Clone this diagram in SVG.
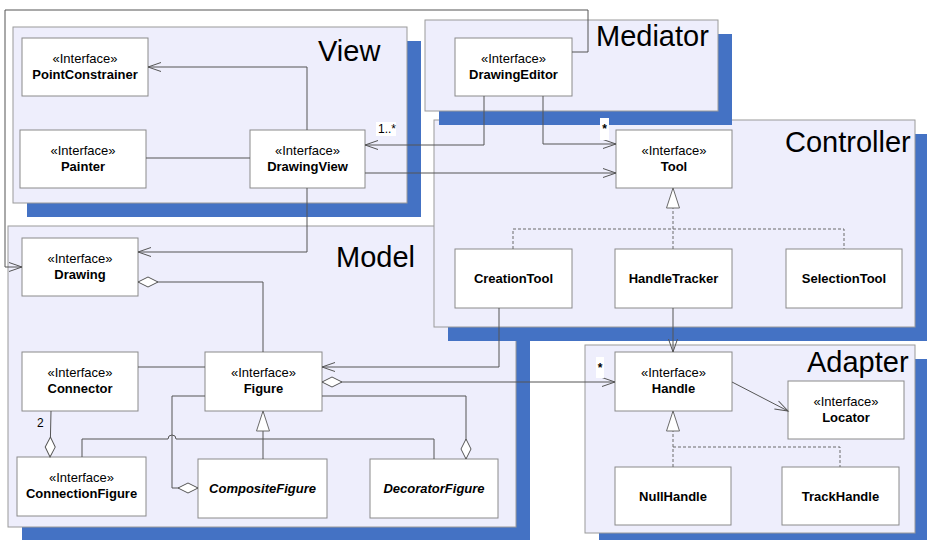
<svg xmlns="http://www.w3.org/2000/svg" width="927" height="540" viewBox="0 0 927 540">
<style>
.pkg{fill:#eeeefc;stroke:#9a9a9a;stroke-width:1}
.shd{fill:#4472c4}
.ptitle{font-family:"Liberation Sans",Arial,sans-serif;font-size:29px;fill:#000}
.node rect{fill:#fff;stroke:#8a8a8a;stroke-width:1}
.st{font-family:"Liberation Sans",Arial,sans-serif;font-size:13px;fill:#000;text-anchor:middle}
.nm{font-family:"Liberation Sans",Arial,sans-serif;font-size:13px;font-weight:bold;fill:#000;text-anchor:middle}
.it{font-style:italic}
.c{fill:none;stroke:#555;stroke-width:1}
.d{fill:none;stroke:#6a6a6a;stroke-width:1;stroke-dasharray:3,2}
.lbl{font-family:"Liberation Sans",Arial,sans-serif;font-size:12px;fill:#000}
.lbg{fill:#fff}
</style>
<defs>
<marker id="arr" markerUnits="userSpaceOnUse" markerWidth="20" markerHeight="20" viewBox="-16 -8 20 16" refX="0" refY="0" orient="auto" overflow="visible"><path d="M-13,-4.5 L0,0 L-13,4.5" fill="none" stroke="#555" stroke-width="1"/></marker>
<marker id="dia" markerUnits="userSpaceOnUse" markerWidth="24" markerHeight="14" viewBox="-22 -7 24 14" refX="0" refY="0" orient="auto-start-reverse" overflow="visible"><path d="M0,0 L-10,-5 L-20,0 L-10,5 Z" fill="#fff" stroke="#555" stroke-width="1"/></marker>
<marker id="tri" markerUnits="userSpaceOnUse" markerWidth="24" markerHeight="16" viewBox="-22 -8 24 16" refX="0" refY="0" orient="auto" overflow="visible"><path d="M0,0 L-20,-6.5 L-20,6.5 Z" fill="#fff" stroke="#6a6a6a" stroke-width="1"/></marker>
</defs>

<g id="pkg-view">
<rect class="shd" x="27" y="41" width="394" height="176"/>
<rect class="pkg" x="13" y="27" width="394" height="176"/>
<text class="ptitle" x="318" y="61">View</text>
</g>
<g id="pkg-model">
<rect class="shd" x="22" y="240" width="508" height="301"/>
<rect class="pkg" x="8" y="226" width="508" height="301"/>
<text class="ptitle" x="336" y="267">Model</text>
</g>
<g id="pkg-controller">
<rect class="shd" x="448" y="134" width="481" height="207"/>
<rect class="pkg" x="434" y="120" width="481" height="207"/>
<text class="ptitle" x="785" y="152">Controller</text>
</g>
<g id="pkg-mediator">
<rect class="shd" x="439" y="34" width="293" height="91"/>
<rect class="pkg" x="425" y="20" width="293" height="91"/>
<text class="ptitle" x="596" y="46">Mediator</text>
</g>
<g id="pkg-adapter">
<rect class="shd" x="599" y="359" width="330" height="188"/>
<rect class="pkg" x="585" y="345" width="330" height="188"/>
<text class="ptitle" x="807" y="372">Adapter</text>
</g>

<g id="PointConstrainer" class="node"><rect x="22" y="38" width="126" height="58"/><text class="st" x="85" y="63">«Interface»</text><text class="nm" x="85" y="79">PointConstrainer</text></g>
<g id="Painter" class="node"><rect x="20" y="130" width="126" height="58"/><text class="st" x="83" y="155">«Interface»</text><text class="nm" x="83" y="171">Painter</text></g>
<g id="DrawingView" class="node"><rect x="250" y="130" width="115" height="58"/><text class="st" x="307.5" y="155">«Interface»</text><text class="nm" x="307.5" y="171">DrawingView</text></g>
<g id="DrawingEditor" class="node"><rect x="455" y="38" width="117" height="58"/><text class="st" x="513.5" y="63">«Interface»</text><text class="nm" x="513.5" y="79">DrawingEditor</text></g>
<g id="Tool" class="node"><rect x="616" y="130" width="116" height="58"/><text class="st" x="674" y="155">«Interface»</text><text class="nm" x="674" y="171">Tool</text></g>
<g id="CreationTool" class="node"><rect x="455" y="249" width="117" height="59"/><text class="nm" x="513.5" y="283">CreationTool</text></g>
<g id="HandleTracker" class="node"><rect x="615" y="249" width="117" height="59"/><text class="nm" x="673.5" y="283">HandleTracker</text></g>
<g id="SelectionTool" class="node"><rect x="786" y="249" width="116" height="59"/><text class="nm" x="844" y="283">SelectionTool</text></g>
<g id="Drawing" class="node"><rect x="22" y="238" width="116" height="58"/><text class="st" x="80" y="263">«Interface»</text><text class="nm" x="80" y="279">Drawing</text></g>
<g id="Connector" class="node"><rect x="22" y="352" width="116" height="59"/><text class="st" x="80" y="377">«Interface»</text><text class="nm" x="80" y="393">Connector</text></g>
<g id="Figure" class="node"><rect x="205" y="352" width="117" height="59"/><text class="st" x="263.5" y="377">«Interface»</text><text class="nm" x="263.5" y="393">Figure</text></g>
<g id="ConnectionFigure" class="node"><rect x="17" y="457" width="129" height="59"/><text class="st" x="81.5" y="482">«Interface»</text><text class="nm" x="81.5" y="498">ConnectionFigure</text></g>
<g id="CompositeFigure" class="node"><rect x="198" y="459" width="129" height="59"/><text class="nm it" x="262.5" y="493">CompositeFigure</text></g>
<g id="DecoratorFigure" class="node"><rect x="370" y="459" width="128" height="59"/><text class="nm it" x="434" y="493">DecoratorFigure</text></g>
<g id="Handle" class="node"><rect x="615" y="352" width="117" height="59"/><text class="st" x="673.5" y="377">«Interface»</text><text class="nm" x="673.5" y="393">Handle</text></g>
<g id="Locator" class="node"><rect x="788" y="381" width="116" height="58"/><text class="st" x="846" y="406">«Interface»</text><text class="nm" x="846" y="422">Locator</text></g>
<g id="NullHandle" class="node"><rect x="615" y="467" width="116" height="58"/><text class="nm" x="673" y="501">NullHandle</text></g>
<g id="TrackHandle" class="node"><rect x="782" y="467" width="117" height="58"/><text class="nm" x="840.5" y="501">TrackHandle</text></g>

<g id="connectors">
<path class="c" d="M307,130 V67 H148" marker-end="url(#arr)"/>
<path class="c" d="M146,158 H250"/>
<path class="c" d="M484,96 V145 H365" marker-end="url(#arr)"/>
<path class="c" d="M543,96 V144 H616" marker-end="url(#arr)"/>
<path class="c" d="M365,173 H616" marker-end="url(#arr)"/>
<path class="c" d="M307,188 V252 H138" marker-end="url(#arr)"/>
<path class="c" d="M572,52 H588 V10 H5 V267 H22" marker-end="url(#arr)"/>
<path class="c" d="M138,282 H263 V352" marker-start="url(#dia)"/>
<path class="c" d="M138,367 H205"/>
<path class="c" d="M499,308 V367 H322" marker-end="url(#arr)"/>
<path class="c" d="M322,382 H615" marker-start="url(#dia)" marker-end="url(#arr)"/>
<path class="c" d="M673,308 V352" marker-end="url(#arr)"/>
<path class="c" d="M732,382 L788,411" marker-end="url(#arr)"/>
<path class="d" d="M673,249 V188" marker-end="url(#tri)"/>
<path class="d" d="M513,249 V229 H844 V249"/>
<path class="d" d="M673,467 V411" marker-end="url(#tri)"/>
<path class="d" d="M673,447 H840 V467"/>
<path class="c" d="M263,459 V411" marker-end="url(#tri)"/>
<path class="c" d="M198,488 H172 V396 H205" marker-start="url(#dia)"/>
<path class="c" d="M466,459 V396 H322" marker-start="url(#dia)"/>
<path class="c" d="M50,457 L51,411" marker-start="url(#dia)"/>
<path class="c" d="M82,457 V439 H168 A4,4 0 0 1 176,439 H434 V459"/>
<rect class="lbg" x="376" y="122" width="20" height="14"/>
<text class="lbl" x="378" y="133">1..*</text>
<rect class="lbg" x="600" y="118" width="9" height="22"/>
<text class="lbl" x="604.5" y="133" text-anchor="middle" font-weight="bold" font-size="14">*</text>
<rect class="lbg" x="596" y="357" width="8" height="21"/>
<text class="lbl" x="600" y="372" text-anchor="middle" font-weight="bold" font-size="14">*</text>
<text class="lbl" x="37" y="427" font-size="13">2</text>
</g>
</svg>
